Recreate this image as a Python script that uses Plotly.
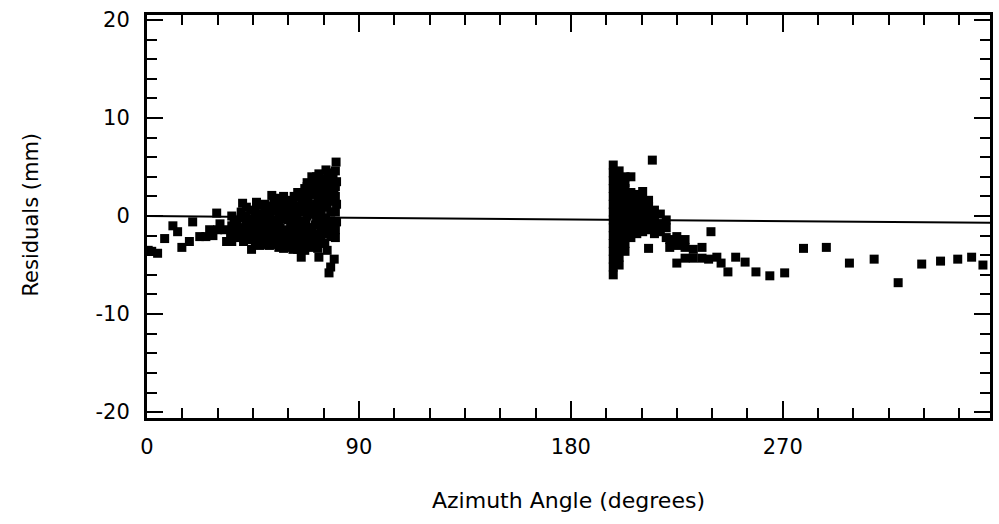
import plotly.graph_objects as go

# ---- data (azimuth angle in degrees, residuals in mm) ----
left_az = [0.5, 2, 4.5, 7.5, 11, 13, 14.8, 18, 19.4, 22.4, 25, 26.6, 29.6, 30, 28, 31, 33.8, 35.5, 37, 38,
           39.5, 41, 42.2, 43, 44.4, 45, 46, 47, 48, 48.5, 49.5, 50, 51, 51.5, 52.5, 53, 54, 54.5, 55, 55.5,
           56, 57, 57.5, 58, 58.5, 59, 59.5, 60, 60.5, 61, 61.5, 62, 62.5, 63, 63.5, 64, 64.6, 65, 65.5, 66,
           66.5, 67, 67.5, 68, 68.5, 69, 70, 70, 70.5, 71, 71.5, 72, 72, 72.5, 73, 73, 73.5, 74, 74, 74.5,
           75, 75, 75.5, 76, 76, 76.5, 76.5, 77, 77.3, 77.5, 78, 78, 78, 78.5, 79, 79.4, 79.5, 80, 80, 80.3,
           80.5, 80.5, 80.5,
           66, 68, 69, 71, 73, 77, 79, 72.5, 75.5, 70, 67, 64, 61, 58, 53, 56.5, 52, 47, 43, 40, 36, 33,
           46.5, 40.6, 53, 50,
           36, 36, 38, 38, 40, 40, 40, 42, 42, 42, 44, 44, 44, 44, 46, 46, 46, 46, 48, 48, 48,
           50, 50, 50, 50, 52, 52, 52, 52, 52, 54, 54, 54, 54, 54, 56, 56, 56, 56, 56,
           58, 58, 58, 58, 58, 60, 60, 60, 60, 60, 62, 62, 62, 62, 62, 64, 64, 64, 64, 64,
           66, 66, 66, 66, 66, 68, 68, 68, 68, 68, 68, 70, 70, 70, 70, 72, 72, 72, 72, 72,
           74, 74, 74, 74, 74, 76, 76, 76, 76, 78, 78, 78, 78, 78, 80, 80, 80, 80]
left_res = [-3.5, -3.6, -3.8, -2.3, -1.0, -1.6, -3.2, -2.6, -0.6, -2.1, -2.1, -1.4, 0.3, -1.4, -2.0, -0.8, -2.6, -1.7, -0.6, -2.2,
            -1.2, -2.6, 0.9, -0.3, -3.4, -1.8, -0.9, 1.1, -2.4, 0.2, -1.4, -2.9, -2.4, -0.4, 0.6, -1.6, 1.8, -2.9, 0.5, -0.9,
            -2.0, 1.3, -2.6, -0.3, -1.5, 0.8, -3.0, -2.2, 1.6, -0.8, 0.2, -1.8, 2.0, -2.8, -0.2, 1.0, 1.9, -1.2, -4.2, -2.2,
            0.4, 2.8, -0.8, -3.0, 1.4, -1.6, 4.0, 2.2, 0.2, -2.6, -0.9, 3.2, 1.2, -3.3, -2.4, -4.2, 0.6, 2.6, -1.4, 3.8,
            -0.3, 1.8, -2.8, 4.7, 2.9, -3.5, 0.9, -1.8, -5.8, 3.6, -5.2, -2.1, 1.5, -0.6, 2.8, 2.3, -4.4, -1.4, 0.4, 5.5,
            3.5, 1.2, -0.6,
            1.8, 3.0, 2.5, 3.5, 4.3, 4.3, 4.0, 2.0, 2.4, -3.2, -3.5, -3.4, -3.2, -3.3, -2.0, -1.2, -1.2, -1.8, -1.6, -2.0, -2.6, -1.4,
            1.4, 1.3, 2.1, 0.8,
            -1.0, 0.0, -1.6, -0.4, -1.2, -0.2, 0.4, -2.0, -1.0, 0.0, -2.4, -1.2, -0.4, 0.6, -2.6, -1.6, -0.2, 0.4, -3.0, -1.0, -0.4,
            -2.0, -0.6, 0.2, 1.2, -3.0, -2.4, -0.4, 0.0, 1.0, -2.2, -1.0, -0.4, 0.8, 1.4, -3.2, -0.4, 0.2, 1.0, 1.8,
            -2.4, -2.0, 0.4, 1.4, 2.0, -1.4, -0.4, 0.2, 0.8, 1.2, -3.4, -2.4, -1.0, 0.8, 1.4, -2.4, -1.6, -0.6, 0.4, 2.4,
            -3.0, -1.6, -0.6, 1.0, 2.4, -2.2, -1.2, 0.0, 0.6, 2.2, 3.4, -2.0, -1.2, 1.0, 3.2, -1.8, -0.4, 0.4, 2.6, 4.0,
            -2.2, -0.8, 0.2, 1.2, 3.2, -1.0, -0.2, 1.6, 3.8, -1.4, 0.4, 2.2, 3.2, 4.4, -2.2, 2.0, 3.0, 4.6]

right_az = [198] * 15 + [200.5] * 13 + [203] * 11 + [205.5] * 8 + [208] * 6 + [210.5] * 6 + [213] * 6 + [214.6] \
    + [215.5] * 4 + [218] * 3 + [220.5] * 3 + [222] * 2 + [225] * 3 + [228.5] * 3 + [232] * 2 \
    + [235.7, 235.7, 238.5, 239.5, 242, 243.8, 246.7, 250, 254, 258.6, 264.5, 270.8, 278.8, 288.5,
       298.3, 308.8, 319, 329, 337, 344.3, 350.2, 355]
right_res = [-6.0, -5.2, -4.4, -3.6, -2.8, -2.0, -1.2, -0.4, 0.4, 1.2, 2.0, 2.8, 3.6, 4.4, 5.2,
             -5.0, -4.2, -3.4, -2.6, -1.8, -1.0, -0.2, 0.6, 1.4, 2.2, 3.0, 3.8, 4.6,
             -3.6, -2.8, -2.0, -1.2, -0.4, 0.4, 1.2, 2.0, 2.8, 3.4, 4.0,
             -2.2, -1.4, -0.6, 0.2, 1.0, 1.8, 2.4, 4.0,
             -1.8, -1.0, -0.2, 0.6, 1.4, 2.2,
             -1.6, -0.8, 0.0, 0.8, 1.6, 2.5,
             -3.3, -1.4, -0.6, 0.2, 1.0, 1.6,
             5.7,
             -1.8, -1.0, -0.2, 0.6,
             -1.6, -0.8, 0.2,
             -2.2, -1.2, -0.4,
             -3.2, -2.4,
             -2.1, -4.8, -3.0,
             -3.2, -2.4, -4.3,
             -3.4, -4.3,
             -3.2, -4.3, -4.4, -1.6, -4.2, -4.8, -5.7, -4.2, -4.7, -5.7, -6.1, -5.8, -3.3, -3.2,
             -4.8, -4.4, -6.8, -4.9, -4.6, -4.4, -4.2, -5.0]

fit_az = [0, 360]
fit_res = [0.0, -0.7]

x_ticks = [0, 90, 180, 270]
x_tick_text = ["0", "90", "180", "270"]
y_ticks = [-20, -10, 0, 10, 20]
y_tick_text = ["-20", "-10", "0", "10", "20"]

fig = go.Figure()
fig.add_trace(go.Scatter(x=fit_az, y=fit_res, mode="lines",
                         line=dict(color="black", width=2), hoverinfo="skip"))
fig.add_trace(go.Scatter(x=left_az + right_az, y=left_res + right_res, mode="markers",
                         marker=dict(symbol="square", size=9, color="black", line=dict(width=0))))

axis_common = dict(showgrid=False, zeroline=False, showline=True, linecolor="black", linewidth=3,
                   mirror="allticks", ticks="inside", tickcolor="black", tickwidth=2,
                   tickfont=dict(family="DejaVu Sans", size=21, color="black"))

fig.update_xaxes(range=[0, 358], tickvals=x_ticks, ticktext=x_tick_text, ticklen=17,
                 minor=dict(dtick=15, tick0=0, ticks="inside", ticklen=10, tickwidth=2, tickcolor="black"),
                 ticklabelstandoff=8, **axis_common)
fig.update_yaxes(range=[-20.6, 20.5], tickvals=y_ticks, ticktext=y_tick_text, ticklen=16,
                 minor=dict(dtick=2, tick0=0, ticks="inside", ticklen=10, tickwidth=2, tickcolor="black"),
                 ticklabelstandoff=10, **axis_common)

fig.update_layout(
    width=999, height=524,
    margin=dict(l=147, r=6, t=15, b=106),
    paper_bgcolor="white", plot_bgcolor="white",
    showlegend=False,
    font=dict(family="DejaVu Sans", color="black"),
    annotations=[
        dict(text="Residuals (mm)", xref="paper", yref="paper", x=-0.138, y=0.504,
             xanchor="center", yanchor="middle", textangle=-90, showarrow=False,
             font=dict(family="DejaVu Sans", size=21, color="black")),
        dict(text="Azimuth Angle (degrees)", xref="paper", yref="paper", x=0.5, y=-0.2035,
             xanchor="center", yanchor="middle", showarrow=False,
             font=dict(family="DejaVu Sans", size=22, color="black")),
    ],
)

fig.write_html("out.html")
